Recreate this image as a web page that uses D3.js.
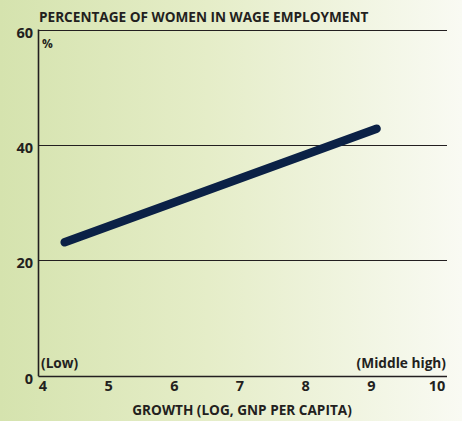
<!DOCTYPE html>
<html>
<head>
<meta charset="utf-8">
<script src="https://cdn.jsdelivr.net/npm/d3@7"></script>
<style>
html,body{margin:0;padding:0;}
svg{display:block;}
text{font-family:"Open Sans","Noto Sans",sans-serif;font-weight:700;fill:#231f20;}
</style>
</head>
<body>
<script>
const title = "PERCENTAGE OF WOMEN IN WAGE EMPLOYMENT";
const xTitle = "GROWTH (LOG, GNP PER CAPITA)";
const unitLabel = "%";
const lowLabel = "(Low)";
const highLabel = "(Middle high)";
const xTicks = [4, 5, 6, 7, 8, 9, 10];
const yTicks = [0, 20, 40, 60];
const lineX = [4.33, 9.08];
const lineY = [23.1, 42.8];

const W = 462, H = 421;
const svg = d3.select("body").append("svg").attr("width", W).attr("height", H);
const defs = svg.append("defs");
const grad = defs.append("linearGradient").attr("id", "bg").attr("x1", "0").attr("x2", "1").attr("y1", "0").attr("y2", "0");
grad.append("stop").attr("offset", "0").attr("stop-color", "#d5e3ae");
grad.append("stop").attr("offset", "0.45").attr("stop-color", "#e5edc8");
grad.append("stop").attr("offset", "1").attr("stop-color", "#f9faf3");
svg.append("rect").attr("width", W).attr("height", H).attr("fill", "url(#bg)");

const axisLeft = 38.5, plotRight = 447;
const x = d3.scaleLinear().domain([4, 10]).range([43, 437]);
const y = d3.scaleLinear().domain([0, 60]).range([375.5, 29.5]);

// gridlines
svg.append("g").selectAll("line").data(yTicks).join("line")
  .attr("x1", axisLeft).attr("x2", plotRight)
  .attr("y1", d => Math.round(y(d)) + 0.5).attr("y2", d => Math.round(y(d)) + 0.5)
  .attr("stroke", "#231f20").attr("stroke-width", d => d === 0 ? 1.6 : 1.2);
svg.append("line").attr("x1", axisLeft).attr("x2", axisLeft)
  .attr("y1", y(60)).attr("y2", y(0) + 0.8)
  .attr("stroke", "#231f20").attr("stroke-width", 1.6);

// y tick labels
svg.append("g").selectAll("text").data(yTicks).join("text")
  .attr("x", 33).attr("y", d => y(d) + 8)
  .attr("text-anchor", "end").attr("font-size", 14.5).text(d => d);

// x tick labels
svg.append("g").selectAll("text").data(xTicks).join("text")
  .attr("x", d => x(d)).attr("y", 391)
  .attr("text-anchor", "middle").attr("font-size", 14.5).text(d => d);

// titles and labels
svg.append("text").attr("x", 39).attr("y", 22).attr("font-size", 13.6).text(title);
svg.append("text").attr("x", 42).attr("y", 48).attr("font-size", 12).text(unitLabel);
svg.append("text").attr("x", 41).attr("y", 368).attr("font-size", 13.7).text(lowLabel);
svg.append("text").attr("x", 446).attr("y", 368).attr("text-anchor", "end").attr("font-size", 13.7).text(highLabel);
svg.append("text").attr("x", 242).attr("y", 415).attr("text-anchor", "middle").attr("font-size", 13.6).text(xTitle);

// line
const pts = lineX.map((v, i) => [v, lineY[i]]);
svg.append("path").datum(pts)
  .attr("d", d3.line().x(d => x(d[0])).y(d => y(d[1])))
  .attr("fill", "none").attr("stroke", "#0b2146").attr("stroke-width", 8.5)
  .attr("stroke-linecap", "round");
</script>
</body>
</html>
